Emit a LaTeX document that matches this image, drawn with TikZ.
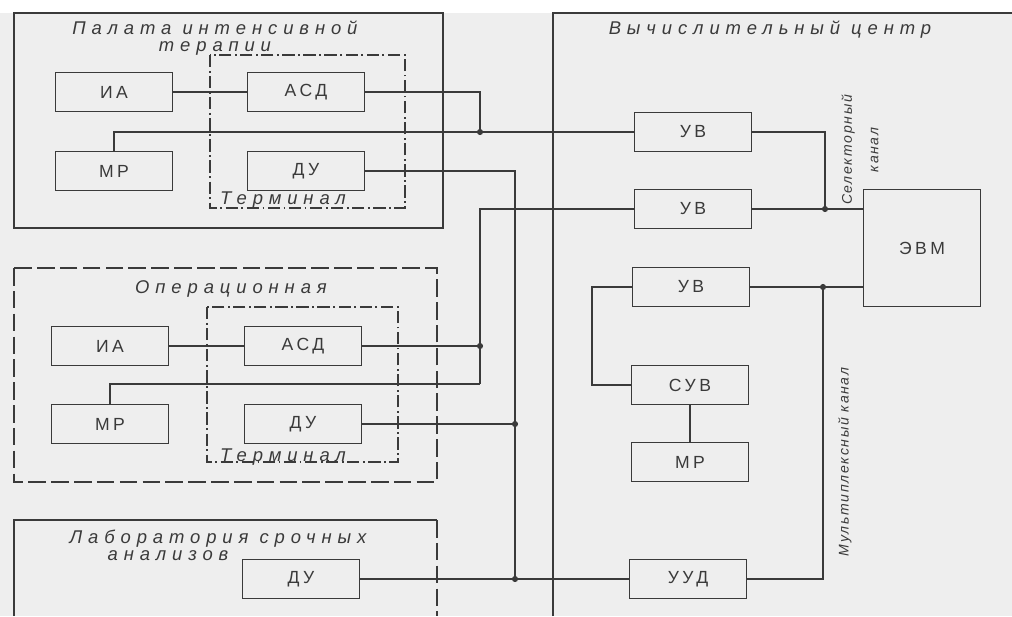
\documentclass[tikz,border=0pt]{standalone}
\usepackage{fontspec}
\setmainfont{Liberation Sans}
\newfontfamily\titlefont[LetterSpace=32]{Liberation Sans}
\newfontfamily\boxfont[LetterSpace=20]{Liberation Sans}
\newfontfamily\chanfont[LetterSpace=12]{Liberation Sans}
\usetikzlibrary{calc}
\definecolor{Ink}{HTML}{3A3A3A}
\definecolor{Paper}{HTML}{EEEEEE}

\begin{document}
\begin{tikzpicture}[
  x=0.02cm,y=-0.02cm,
  blk/.style={draw=Ink,line width=1.1pt,minimum width=2.34cm,minimum height=0.78cm,inner sep=0pt,text=Ink,font=\boxfont\fontsize{10}{11}\selectfont},
  room/.style={draw=Ink,line width=1.2pt},
  roomd/.style={room,dash pattern=on 10pt off 3pt},
  term/.style={draw=Ink,line width=0.9pt,dash pattern=on 7pt off 2pt on 1pt off 2pt},
  ttl/.style={font=\titlefont\itshape\fontsize{10.5}{9.5}\selectfont,text=Ink,align=center,inner sep=1pt},
  chan/.style={font=\chanfont\itshape\fontsize{8}{9}\selectfont,text=Ink,align=center,rotate=90,inner sep=1pt},
  wire/.style={draw=Ink,line width=0.9pt},
  jdot/.style={circle,fill=Ink,inner sep=0pt,minimum size=3.5pt}
]
\useasboundingbox (0,0) rectangle (1012,616);
\fill[Paper] (0,13) rectangle (1012,616);

% rooms and terminals
\draw[room] (14,13) rectangle (443,228);
\draw[roomd] (14,268) rectangle (437,482);
\draw[room] (14,616) -- (14,520) -- (437,520);
\draw[roomd] (437,520) -- (437,616);
\draw[room] (553,616) -- (553,13) -- (1012,13);
\draw[term] (210,55) rectangle (405,208);
\draw[term] (207,307) rectangle (398,462);

\node[ttl] (icuT) at (215,38) {Палата интенсивной\\терапии};
\node[ttl] (opT) at (231,289) {Операционная};
\node[ttl] (labT) at (218,545) {Лаборатория срочных\\анализов\hspace*{2cm}};
\node[ttl] (vcT) at (770,30) {Вычислительный центр};
\node[ttl] (term1T) at (283,200) {Терминал};
\node[ttl] (term2T) at (283,457) {Терминал};

\node[blk] (ia1) at (114,92) {ИА};
\node[blk] (asd1) at (306,92) {АСД};
\node[blk] (mr1) at (114,171) {МР};
\node[blk] (du1) at (306,171) {ДУ};
\node[blk] (ia2) at (110,346) {ИА};
\node[blk] (asd2) at (303,346) {АСД};
\node[blk] (mr2) at (110,424) {МР};
\node[blk] (du2) at (303,424) {ДУ};
\node[blk] (du3) at (301,579) {ДУ};
\node[blk] (uv1) at (693,132) {УВ};
\node[blk] (uv2) at (693,209) {УВ};
\node[blk] (uv3) at (691,287) {УВ};
\node[blk,minimum height=2.34cm] (evm) at (922,248) {ЭВМ};
\node[blk] (suv) at (690,385) {СУВ};
\node[blk] (mr3) at (690,462) {МР};
\node[blk] (uud) at (688,579) {УУД};

\node[chan] (selT) at (860,150) {Селекторный\\[6pt]канал};
\node[chan] (mpxT) at (845,462) {Мультиплексный канал};

\coordinate (ja) at (480,132);
\coordinate (jb) at (480,346);
\coordinate (jc) at (480,384);
\coordinate (jd) at (515,424);
\coordinate (je) at (515,579);
\coordinate (js) at (825,209);
\coordinate (jm) at (823,287);
\coordinate (jl) at (592,287);

% connections
\draw[wire] (ia1) -- (asd1);
\draw[wire] (asd1.east) -| (ja);
\draw[wire] (mr1.north) |- (uv1.west);
\draw[wire] (du1.east) -| (je);
\draw[wire] (du2.east) -- (jd);
\draw[wire] (du3.east) -- (uud.west);
\draw[wire] (ia2) -- (asd2);
\draw[wire] (asd2.east) -- (jb);
\draw[wire] (mr2.north) |- (jc);
\draw[wire] (jc) |- (uv2.west);
\draw[wire] (uv1.east) -| (js);
\draw[wire] (uv2.east) -- (uv2.east -| evm.west);
\draw[wire] (uv3.east) -- (uv3.east -| evm.west);
\draw[wire] (jm) |- (uud.east);
\draw[wire] (uv3.west) -- (jl) |- (suv.west);
\draw[wire] (suv.south) -- (suv.south |- mr3.north);
\foreach \j in {ja,jb,jd,je,js,jm}
  \node[jdot] at (\j) {};
\end{tikzpicture}
\end{document}
